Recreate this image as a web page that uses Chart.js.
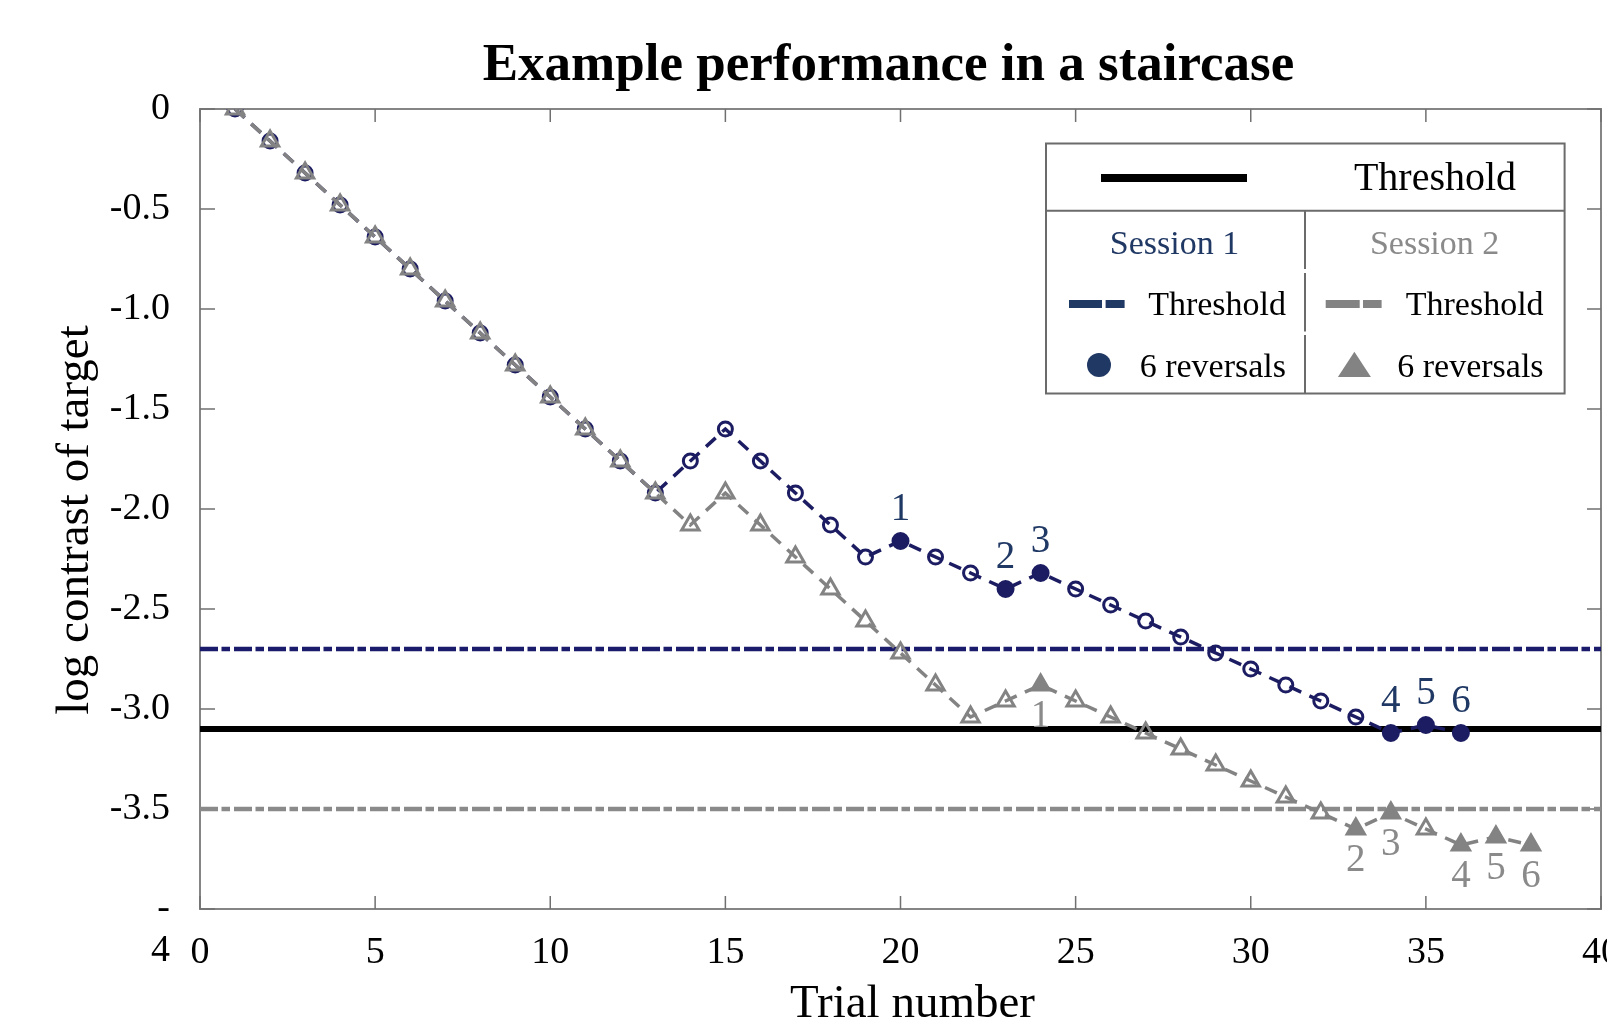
<!DOCTYPE html>
<html>
<head>
<meta charset="utf-8">
<title>Staircase performance</title>
<script src="https://cdn.jsdelivr.net/npm/chart.js@4.4.1/dist/chart.umd.min.js"></script>
<style>
  html, body { margin: 0; padding: 0; background: #fff; overflow: hidden; }
  #wrap { width: 1633px; height: 1040px; }
</style>
</head>
<body>
<div id="wrap"><canvas id="staircaseChart"></canvas></div>
<script>
// =================== DATA ===================
const trialNumbers = [1, 2, 3, 4, 5, 6, 7, 8, 9, 10, 11, 12, 13, 14, 15, 16, 17, 18, 19,
  20, 21, 22, 23, 24, 25, 26, 27, 28, 29, 30, 31, 32, 33, 34, 35, 36, 37, 38];

const session1Contrast = [0, -0.16, -0.32, -0.48, -0.64, -0.80, -0.96, -1.12, -1.28, -1.44,
  -1.60, -1.76, -1.92, -1.76, -1.60, -1.76, -1.92, -2.08, -2.24, -2.16,
  -2.24, -2.32, -2.40, -2.32, -2.40, -2.48, -2.56, -2.64, -2.72, -2.80,
  -2.88, -2.96, -3.04, -3.12, -3.08, -3.12];

const session2Contrast = [0, -0.16, -0.32, -0.48, -0.64, -0.80, -0.96, -1.12, -1.28, -1.44,
  -1.60, -1.76, -1.92, -2.08, -1.92, -2.08, -2.24, -2.40, -2.56, -2.72,
  -2.88, -3.04, -2.96, -2.88, -2.96, -3.04, -3.12, -3.20, -3.28, -3.36,
  -3.44, -3.52, -3.60, -3.52, -3.60, -3.68, -3.64, -3.68];

// trials where the staircase reversed direction
const session1Reversals = [20, 23, 24, 34, 35, 36];
const session2Reversals = [24, 33, 34, 36, 37, 38];

const thresholdOverall = -3.1;
const thresholdSession1 = -2.7;
const thresholdSession2 = -3.5;

const xTickValues = [0, 5, 10, 15, 20, 25, 30, 35, 40];
const xTickLabels = ['0', '5', '10', '15', '20', '25', '30', '35', '40'];
const yTickValues = [-4, -3.5, -3, -2.5, -2, -1.5, -1, -0.5, 0];
const yTickLabels = [['', '-', '4'], '-3.5', '-3.0', '-2.5', '-2.0', '-1.5', '-1.0', '-0.5', '0'];

// =================== STYLE ===================
const NAVY = '#1c1c62';
const NAVY_TEXT = '#203864';
const GREY = '#838383';
const SERIF = '"Liberation Serif", "Times New Roman", serif';

function toPoints(values) {
  return values.map((v, i) => ({ x: trialNumbers[i], y: v }));
}

function hLine(value) {
  return [{ x: xTickValues[0], y: value }, { x: xTickValues[xTickValues.length - 1], y: value }];
}

function isReversal(list, values) {
  return values.map((_, i) => list.includes(trialNumbers[i]));
}

const s1Rev = isReversal(session1Reversals, session1Contrast);
const s2Rev = isReversal(session2Reversals, session2Contrast);

// =================== PLUGINS ===================
// box around the plot with small inward ticks on every side
const frameTicks = {
  id: 'frameTicks',
  beforeDatasetsDraw(chart) {
    const { ctx, chartArea: a, scales: { x, y } } = chart;
    ctx.save();
    ctx.strokeStyle = '#858585';
    ctx.lineWidth = 2;
    ctx.strokeRect(a.left, a.top, a.right - a.left, a.bottom - a.top);
    ctx.strokeStyle = '#707070';
    ctx.lineWidth = 1.5;
    ctx.beginPath();
    xTickValues.forEach(v => {
      const px = x.getPixelForValue(v);
      ctx.moveTo(px, a.bottom); ctx.lineTo(px, a.bottom - 13);
      ctx.moveTo(px, a.top); ctx.lineTo(px, a.top + 13);
    });
    yTickValues.forEach(v => {
      const py = y.getPixelForValue(v);
      ctx.moveTo(a.left, py); ctx.lineTo(a.left + 15, py);
      ctx.moveTo(a.right, py); ctx.lineTo(a.right - 14, py);
    });
    ctx.stroke();
    ctx.restore();
  }
};

// numbers 1..6 next to each reversal point
const reversalLabels = {
  id: 'reversalLabels',
  afterDatasetsDraw(chart) {
    const { ctx } = chart;
    ctx.save();
    ctx.font = '39px ' + SERIF;
    ctx.textAlign = 'center';
    ctx.textBaseline = 'middle';
    [[0, session1Reversals, -31, NAVY_TEXT], [1, session2Reversals, 32, '#8a8a8a']].forEach(([ds, list, dy, color]) => {
      const meta = chart.getDatasetMeta(ds);
      ctx.fillStyle = color;
      list.forEach((trial, i) => {
        const pt = meta.data[trialNumbers.indexOf(trial)];
        ctx.fillText(String(i + 1), pt.x, pt.y + dy);
      });
    });
    ctx.restore();
  }
};

// title, axis titles and the boxed legend table
const titleAndLegend = {
  id: 'titleAndLegend',
  afterDraw(chart) {
    const { ctx, chartArea: a } = chart;
    const cx = (a.left + a.right) / 2, cy = (a.top + a.bottom) / 2;
    ctx.save();

    ctx.fillStyle = '#000';
    ctx.font = 'bold 53px ' + SERIF;
    ctx.textAlign = 'center';
    ctx.textBaseline = 'alphabetic';
    ctx.fillText('Example performance in a staircase', cx - 12, a.top - 29);

    ctx.font = '47px ' + SERIF;
    ctx.textBaseline = 'middle';
    ctx.fillText('Trial number', cx + 12, a.bottom + 96);
    ctx.save();
    ctx.translate(a.left - 124, cy + 11);
    ctx.rotate(-Math.PI / 2);
    ctx.fillText('log contrast of target', 0, 0);
    ctx.restore();
    ctx.textBaseline = 'alphabetic';

    const L = a.right - 555, T = a.top + 34.5, W = 518.6, H = 250;
    const midX = L + 259;

    ctx.fillStyle = '#fff';
    ctx.fillRect(L, T, W, H);
    ctx.strokeStyle = '#6b6b6b';
    ctx.lineWidth = 2;
    ctx.strokeRect(L, T, W, H);
    ctx.beginPath();
    ctx.moveTo(L, T + 67.2); ctx.lineTo(L + W, T + 67.2);
    ctx.moveTo(midX, T + 67.2); ctx.lineTo(midX, T + 125.5);
    ctx.moveTo(midX, T + 129.5); ctx.lineTo(midX, T + 188);
    ctx.moveTo(midX, T + 191.5); ctx.lineTo(midX, T + H);
    ctx.stroke();

    // overall threshold
    ctx.fillStyle = '#000';
    ctx.fillRect(L + 55, T + 30.5, 146, 8);
    ctx.font = '40px ' + SERIF;
    ctx.fillText('Threshold', L + 389, T + 46.5);

    ctx.font = '34px ' + SERIF;
    ctx.fillStyle = NAVY_TEXT;
    ctx.fillText('Session 1', L + 128.5, T + 110.5);
    ctx.fillStyle = '#8a8a8a';
    ctx.fillText('Session 2', L + 388.6, T + 110.5);

    // dashed threshold swatches
    ctx.fillStyle = NAVY_TEXT;
    ctx.fillRect(L + 23, T + 156.5, 33, 8);
    ctx.fillRect(L + 59.6, T + 156.5, 19, 8);
    ctx.fillStyle = GREY;
    ctx.fillRect(L + 279.7, T + 156.5, 34, 8);
    ctx.fillRect(L + 317, T + 156.5, 18.6, 8);

    // reversal marker swatches
    ctx.fillStyle = NAVY_TEXT;
    ctx.beginPath();
    ctx.arc(L + 53, T + 221.5, 12, 0, Math.PI * 2);
    ctx.fill();
    ctx.fillStyle = GREY;
    ctx.beginPath();
    ctx.moveTo(L + 308.4, T + 208.2);
    ctx.lineTo(L + 324.9, T + 233.5);
    ctx.lineTo(L + 291.9, T + 233.5);
    ctx.closePath();
    ctx.fill();

    ctx.fillStyle = '#000';
    ctx.textAlign = 'right';
    ctx.fillText('Threshold', L + 240, T + 171.5);
    ctx.fillText('Threshold', L + 497.6, T + 171.5);
    ctx.fillText('6 reversals', L + 240, T + 233.2);
    ctx.fillText('6 reversals', L + 497.6, T + 233.2);

    ctx.restore();
  }
};

// =================== CHART ===================
new Chart(document.getElementById('staircaseChart'), {
  type: 'line',
  data: {
    datasets: [
      {
        label: 'Session 1',
        data: toPoints(session1Contrast),
        borderColor: NAVY,
        borderWidth: 3.5,
        borderDash: [13, 9],
        tension: 0,
        pointStyle: 'circle',
        pointRadius: s1Rev.map(r => r ? 7.5 : 7),
        pointBorderWidth: 3,
        pointBorderColor: NAVY,
        pointBackgroundColor: s1Rev.map(r => r ? NAVY : 'rgba(0,0,0,0)'),
        order: 2
      },
      {
        label: 'Session 2',
        data: toPoints(session2Contrast),
        borderColor: GREY,
        borderWidth: 3.5,
        borderDash: [13, 9],
        tension: 0,
        pointStyle: 'triangle',
        pointRadius: 10,
        pointBorderWidth: 3,
        pointBorderColor: GREY,
        pointBackgroundColor: s2Rev.map(r => r ? GREY : 'rgba(0,0,0,0)'),
        order: 1
      },
      {
        label: 'Threshold',
        data: hLine(thresholdOverall),
        borderColor: '#000',
        borderWidth: 6,
        pointRadius: 0,
        order: 3
      },
      {
        label: 'Session 1 threshold',
        data: hLine(thresholdSession1),
        borderColor: '#1b1b6b',
        borderWidth: 4.5,
        borderDash: [18, 3.5, 8.5, 4],
        pointRadius: 0,
        order: 3
      },
      {
        label: 'Session 2 threshold',
        data: hLine(thresholdSession2),
        borderColor: '#8a8a8a',
        borderWidth: 4.5,
        borderDash: [18, 3.5, 8.5, 4],
        pointRadius: 0,
        order: 3
      }
    ]
  },
  options: {
    responsive: true,
    maintainAspectRatio: false,
    animation: false,
    events: [],
    layout: { padding: { top: 109, left: 0, right: 0, bottom: 0 } },
    scales: {
      x: {
        type: 'linear',
        min: 0,
        max: 40,
        afterFit(scale) { scale.height = 131; },
        afterBuildTicks(scale) { scale.ticks = xTickValues.map(v => ({ value: v })); },
        grid: { display: false },
        border: { display: false },
        ticks: {
          autoSkip: false,
          maxRotation: 0,
          padding: 13,
          color: '#000',
          font: { family: SERIF, size: 38 },
          callback: (v, i) => xTickLabels[i]
        }
      },
      y: {
        min: -4,
        max: 0,
        afterFit(scale) { scale.width = 200; },
        afterBuildTicks(scale) { scale.ticks = yTickValues.map(v => ({ value: v })); },
        grid: { display: false },
        border: { display: false },
        ticks: {
          autoSkip: false,
          padding: 22,
          color: '#000',
          font: { family: SERIF, size: 38, lineHeight: 1.1 },
          callback: (v, i) => yTickLabels[i]
        }
      }
    },
    plugins: {
      legend: { display: false },
      tooltip: { enabled: false }
    }
  },
  plugins: [frameTicks, reversalLabels, titleAndLegend]
});
</script>
</body>
</html>
